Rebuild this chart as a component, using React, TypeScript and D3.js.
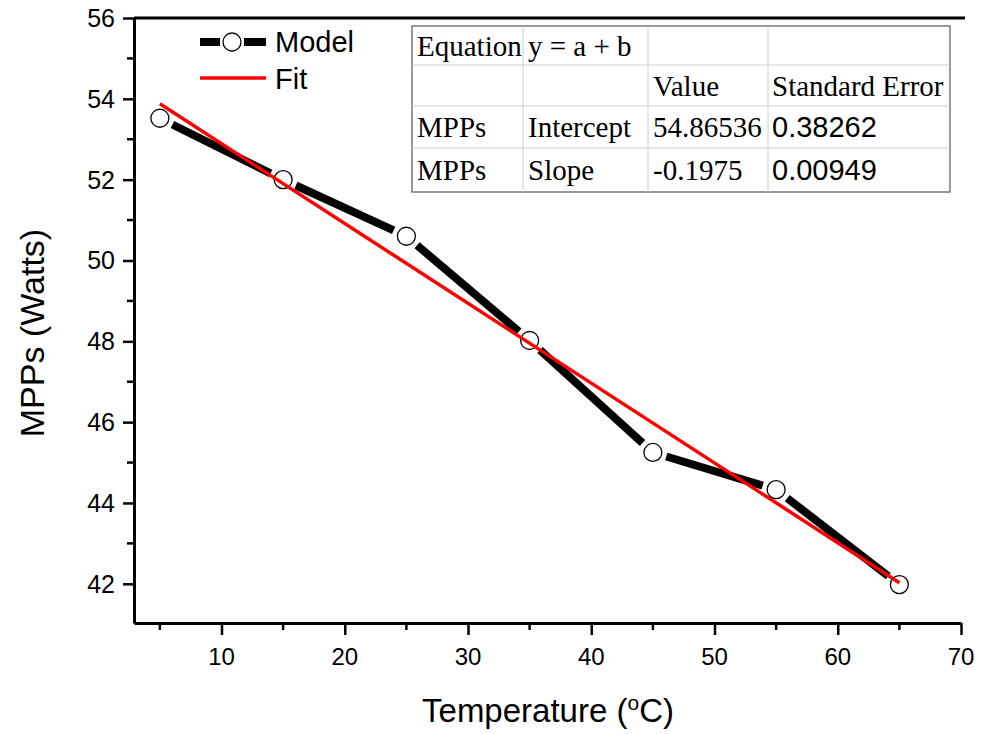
import React, { useEffect, useRef } from 'react';
import * as d3 from 'd3';

const temps = [5, 15, 25, 35, 45, 55, 65];
const mpps = [53.52, 52.0, 50.6, 48.02, 45.25, 44.33, 41.98];
const fitIntercept = 54.86536;
const fitSlope = -0.1975;
const xTicks = [10, 20, 30, 40, 50, 60, 70];
const yTicks = [42, 44, 46, 48, 50, 52, 54, 56];
const tableRows = [
  ['Equation', 'y = a + b', '', ''],
  ['', '', 'Value', 'Standard Error'],
  ['MPPs', 'Intercept', '54.86536', '0.38262'],
  ['MPPs', 'Slope', '-0.1975', '0.00949'],
];

const W = 995;
const H = 734;

export default function App() {
  const ref = useRef<SVGSVGElement>(null);

  useEffect(() => {
    const svg = d3.select(ref.current);
    svg.selectAll('*').remove();

    const left = 134, right = 961, top = 18, bottom = 623;
    const x = d3.scaleLinear().domain([2.9, 70]).range([left, right]);
    const y = d3.scaleLinear().domain([41.03, 56]).range([bottom, top]);
    const sans = 'Liberation Sans, Arial, sans-serif';
    const serif = 'Liberation Serif, Times New Roman, serif';

    // axes (lines and ticks from d3, labels drawn separately)
    const xAxis = svg.append('g').attr('transform', `translate(0,${bottom})`)
      .call(d3.axisBottom(x).tickValues(xTicks).tickSize(12).tickSizeOuter(0).tickFormat(() => ''));
    xAxis.select('.domain').attr('stroke-width', 3);
    xAxis.selectAll('.tick line').attr('stroke-width', 2.5);

    svg.append('g').selectAll('text').data(xTicks).join('text')
      .attr('x', d => x(d)).attr('y', bottom + 42).attr('text-anchor', 'middle')
      .attr('font-family', sans).attr('font-size', 24).text(d => String(d));

    svg.append('g').selectAll('line').data(temps).join('line')
      .attr('x1', d => x(d)).attr('x2', d => x(d)).attr('y1', bottom).attr('y2', bottom + 7)
      .attr('stroke', '#000').attr('stroke-width', 2.5);

    const yAxis = svg.append('g').attr('transform', `translate(${left},0)`)
      .call(d3.axisLeft(y).tickValues(yTicks).tickSize(11).tickSizeOuter(0).tickFormat(() => ''));
    yAxis.select('.domain').attr('stroke-width', 3);
    yAxis.selectAll('.tick line').attr('stroke-width', 2.5);

    svg.append('g').selectAll('text').data(yTicks).join('text')
      .attr('x', left - 19).attr('y', d => y(d) + 9).attr('text-anchor', 'end')
      .attr('font-family', sans).attr('font-size', 25).text(d => String(d));

    const yMinor = yTicks.slice(0, -1).map(v => v + 1);
    svg.append('g').selectAll('line').data(yMinor).join('line')
      .attr('x1', left).attr('x2', left - 7).attr('y1', d => y(d)).attr('y2', d => y(d))
      .attr('stroke', '#000').attr('stroke-width', 2.5);

    // top frame line
    svg.append('line').attr('x1', left).attr('x2', right + 4).attr('y1', top).attr('y2', top)
      .attr('stroke', '#000').attr('stroke-width', 3);

    // axis titles
    svg.append('text').attr('x', 548).attr('y', 722).attr('text-anchor', 'middle')
      .attr('font-family', sans).attr('font-size', 33)
      .call(t => {
        t.append('tspan').text('Temperature (');
        t.append('tspan').text('o').attr('font-size', 21).attr('dy', -12);
        t.append('tspan').text('C)').attr('dy', 12);
      });
    svg.append('text').attr('transform', 'translate(44,333) rotate(-90)').attr('text-anchor', 'middle')
      .attr('font-family', sans).attr('font-size', 34).text('MPPs (Watts)');

    // model line with gaps at markers
    const pts = temps.map((t, i) => [x(t), y(mpps[i])]);
    const gap = 14;
    const segs = d3.pairs(pts).map(([a, b]) => {
      const dx = b[0] - a[0], dy = b[1] - a[1];
      const len = Math.hypot(dx, dy);
      const ux = dx / len, uy = dy / len;
      return [a[0] + ux * gap, a[1] + uy * gap, b[0] - ux * gap, b[1] - uy * gap];
    });
    svg.append('g').selectAll('line').data(segs).join('line')
      .attr('x1', d => d[0]).attr('y1', d => d[1]).attr('x2', d => d[2]).attr('y2', d => d[3])
      .attr('stroke', '#000').attr('stroke-width', 8);

    svg.append('g').selectAll('circle').data(pts).join('circle')
      .attr('cx', d => d[0]).attr('cy', d => d[1]).attr('r', 9)
      .attr('fill', '#fff').attr('stroke', '#000').attr('stroke-width', 1.3);

    // fit line
    const fitX = d3.extent(temps) as [number, number];
    const line = d3.line<number>().x(d => x(d)).y(d => y(fitIntercept + fitSlope * d));
    svg.append('path').attr('d', line(fitX)).attr('fill', 'none')
      .attr('stroke', '#f00').attr('stroke-width', 3.5);

    // legend
    const lg = svg.append('g');
    lg.append('line').attr('x1', 200).attr('x2', 220).attr('y1', 42).attr('y2', 42).attr('stroke', '#000').attr('stroke-width', 8);
    lg.append('line').attr('x1', 244).attr('x2', 266).attr('y1', 42).attr('y2', 42).attr('stroke', '#000').attr('stroke-width', 8);
    lg.append('circle').attr('cx', 232).attr('cy', 42).attr('r', 9).attr('fill', '#fff').attr('stroke', '#000').attr('stroke-width', 1.3);
    lg.append('text').attr('x', 275).attr('y', 52).attr('font-family', sans).attr('font-size', 29).text('Model');
    lg.append('line').attr('x1', 200).attr('x2', 266).attr('y1', 78).attr('y2', 78).attr('stroke', '#f00').attr('stroke-width', 3.5);
    lg.append('text').attr('x', 275).attr('y', 89).attr('font-family', sans).attr('font-size', 29).text('Fit');

    // table
    const colX = [412, 523, 648, 768, 950];
    const rowY = [26, 65, 106, 148, 192];
    const tb = svg.append('g');
    tb.append('rect').attr('x', colX[0]).attr('y', rowY[0]).attr('width', colX[4] - colX[0]).attr('height', rowY[4] - rowY[0])
      .attr('fill', '#fff').attr('stroke', '#555').attr('stroke-width', 1.2);
    colX.slice(1, -1).forEach(cx => tb.append('line').attr('x1', cx).attr('x2', cx).attr('y1', rowY[0]).attr('y2', rowY[4]).attr('stroke', '#ccc').attr('stroke-width', 1));
    rowY.slice(1, -1).forEach(ry => tb.append('line').attr('x1', colX[0]).attr('x2', colX[4]).attr('y1', ry).attr('y2', ry).attr('stroke', '#ccc').attr('stroke-width', 1));
    tableRows.forEach((row, ri) => {
      row.forEach((cell, ci) => {
        if (!cell) return;
        const numeric = ri >= 2 && ci === 3;
        tb.append('text').attr('x', colX[ci] + (ci === 3 ? 4 : 5)).attr('y', rowY[ri] + (rowY[ri + 1] - rowY[ri]) / 2 + 10)
          .attr('font-family', numeric ? sans : serif).attr('font-size', 29).text(cell);
      });
    });
  }, []);

  return (
    <svg ref={ref} width={W} height={H} style={{ position: 'absolute', left: 0, top: 0, background: '#fff' }} />
  );
}
